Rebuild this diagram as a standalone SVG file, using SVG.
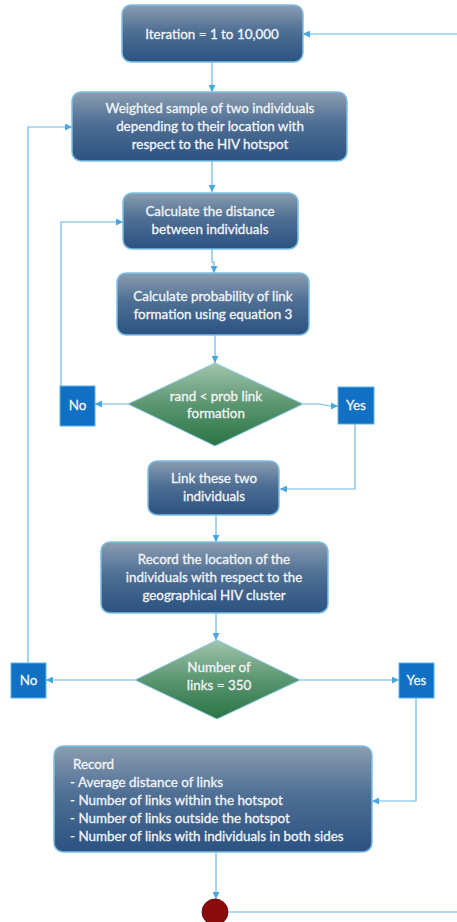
<svg xmlns="http://www.w3.org/2000/svg" width="457" height="922" viewBox="0 0 457 922">
<defs>
<linearGradient id="gBox" x1="0" y1="0" x2="0" y2="1">
<stop offset="0" stop-color="#8b9db1"/>
<stop offset="0.45" stop-color="#4f6f94"/>
<stop offset="1" stop-color="#2b5282"/>
</linearGradient>
<linearGradient id="gDia" x1="0" y1="0" x2="0" y2="1">
<stop offset="0" stop-color="#a3c4ad"/>
<stop offset="0.5" stop-color="#5a9670"/>
<stop offset="1" stop-color="#2a7444"/>
</linearGradient>
<marker id="ah" viewBox="0 0 10 10" refX="10" refY="5" markerWidth="7" markerHeight="7" markerUnits="userSpaceOnUse" orient="auto">
<path d="M0,0 L10,5 L0,10 z" fill="#4aa6e0"/>
</marker>
<style>
.box{fill:url(#gBox);stroke:#7cc0e6;stroke-width:1.5}
.dia{fill:url(#gDia);stroke:#8ccbe8;stroke-width:1}
.yn{fill:#1070c4;stroke:#5fb0e6;stroke-width:1}
.t{font-family:Lato,"Open Sans","Liberation Sans",sans-serif;font-size:13.4px;fill:#f2f5f8;stroke:#f2f5f8;stroke-width:0.3;text-anchor:middle}
.tl{text-anchor:start}
.c{fill:none;stroke:#6ab8e6;stroke-width:1.2}
.ca{fill:none;stroke:#6ab8e6;stroke-width:1.2;marker-end:url(#ah)}
</style>
</defs>

<g id="connectors">
<path class="ca" d="M457,34 H303"/>
<path class="ca" d="M212,62 V92"/>
<path class="ca" d="M212,161 V192"/>
<path class="ca" d="M212,249 V262 H214 V273"/>
<path class="ca" d="M215,335 V363"/>
<path class="ca" d="M128,404 H95"/>
<path class="ca" d="M303,404 H320 L330,406 H338"/>
<path class="ca" d="M61,386 V222 H123"/>
<path class="ca" d="M355,424 V489 H280"/>
<path class="ca" d="M216,515 V542"/>
<path class="ca" d="M216,613 V640"/>
<path class="ca" d="M135,680 H46"/>
<path class="ca" d="M300,680 H399"/>
<path class="ca" d="M28,663 V127 H72"/>
<path class="ca" d="M416,698 V801 H372"/>
<path class="ca" d="M216,852 V899"/>
<path class="c" d="M228,912 H457"/>
</g>

<g id="n-iteration">
<rect class="box" x="122" y="5" width="181" height="57" rx="9"/>
<text class="t" x="212" y="39">Iteration = 1 to 10,000</text>
</g>

<g id="n-sample">
<rect class="box" x="72" y="92" width="275" height="69" rx="9"/>
<text class="t" x="210" y="113">Weighted sample of two individuals</text>
<text class="t" x="210" y="131">depending to their location with</text>
<text class="t" x="210" y="149">respect to the HIV hotspot</text>
</g>

<g id="n-distance">
<rect class="box" x="123" y="193" width="175" height="56" rx="9"/>
<text class="t" x="210" y="216">Calculate the distance</text>
<text class="t" x="210" y="234">between individuals</text>
</g>

<g id="n-prob">
<rect class="box" x="117" y="273" width="192" height="62" rx="9"/>
<text class="t" x="213" y="301">Calculate probability of link</text>
<text class="t" x="213" y="319">formation using equation 3</text>
</g>

<g id="n-rand">
<polygon class="dia" points="215,363 303,404 215,446 128,404"/>
<text class="t" x="216" y="401">rand &lt; prob link</text>
<text class="t" x="216" y="418">formation</text>
</g>

<g id="n-no1">
<rect class="yn" x="60" y="386" width="35" height="40"/>
<text class="t" x="77.5" y="410">No</text>
</g>

<g id="n-yes1">
<rect class="yn" x="338" y="387" width="36" height="37"/>
<text class="t" x="356" y="410">Yes</text>
</g>

<g id="n-link">
<rect class="box" x="148" y="461" width="131" height="54" rx="9"/>
<text class="t" x="214" y="483">Link these two</text>
<text class="t" x="214" y="501">individuals</text>
</g>

<g id="n-record-loc">
<rect class="box" x="101" y="542" width="227" height="71" rx="9"/>
<text class="t" x="214" y="564">Record the location of the</text>
<text class="t" x="214" y="582">individuals with respect to the</text>
<text class="t" x="214" y="600">geographical HIV cluster</text>
</g>

<g id="n-links350">
<polygon class="dia" points="217,640 300,680 217,719 135,680"/>
<text class="t" x="219" y="672">Number of</text>
<text class="t" x="219" y="690">links = 350</text>
</g>

<g id="n-no2">
<rect class="yn" x="11" y="663" width="35" height="35"/>
<text class="t" x="28.5" y="685">No</text>
</g>

<g id="n-yes2">
<rect class="yn" x="399" y="663" width="35" height="35"/>
<text class="t" x="416.5" y="685">Yes</text>
</g>

<g id="n-record">
<rect class="box" x="54" y="746" width="318" height="106" rx="9"/>
<text class="t tl" x="73" y="769">Record</text>
<text class="t tl" x="70" y="787">- Average distance of links</text>
<text class="t tl" x="70" y="805">- Number of links within the hotspot</text>
<text class="t tl" x="70" y="823">- Number of links outside the hotspot</text>
<text class="t tl" x="70" y="841">- Number of links with individuals in both sides</text>
</g>

<g id="n-end">
<circle cx="215" cy="912" r="13" fill="#8a0b0b" stroke="#5a0505" stroke-width="0.8"/>
</g>
</svg>
